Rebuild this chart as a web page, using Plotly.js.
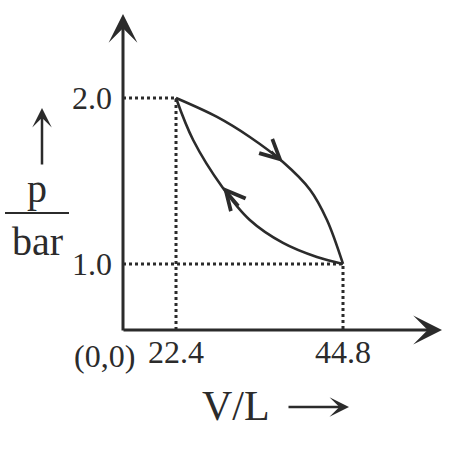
<!DOCTYPE html>
<html><head><meta charset="utf-8">
<script src="https://cdn.plot.ly/plotly-3.0.1.min.js"></script>
<style>html,body{margin:0;padding:0;background:#fff}#plot{width:465px;height:462px}</style>
</head><body><div id="plot"></div>
<script>
// Data
const expansionV = [22.4, 27.9, 32.3, 36.75, 40.4, 42.65, 44.8];
const expansionP = [2.0, 1.886, 1.765, 1.614, 1.446, 1.265, 1.0];
const compressionV = [44.8, 41.3, 36.75, 32.3, 28.6, 24.7, 22.4];
const compressionP = [1.0, 1.042, 1.127, 1.265, 1.464, 1.747, 2.0];
const xTickVals = [22.4, 44.8];
const xTickText = ['22.4', '44.8'];
const yTickVals = [1.0, 2.0];
const yTickText = ['1.0', '2.0'];
// direction markers on the curves: [tailV, tailP, tipV, tipP]
const arrowUpper = [35.0, 1.687, 36.75, 1.614];
const arrowLower = [31.0, 1.343, 28.7, 1.464];

const xRange = [15.29, 58.08];
const yRange = [0.602, 2.506];
const ink = '#2b2b2b';
const serif = 'Liberation Serif, DejaVu Serif, serif';

const traces = [];
// dotted guide lines
[[xTickVals[0], yTickVals[1]], [xTickVals[1], yTickVals[0]]].forEach(([v, p]) => {
  traces.push({x: [xRange[0], v, v], y: [p, p, yRange[0]], mode: 'lines',
    line: {color: ink, width: 3, dash: 'dot'}, hoverinfo: 'skip'});
});
traces.push({x: expansionV, y: expansionP, mode: 'lines', line: {color: ink, width: 2.6, shape: 'spline'}});
traces.push({x: compressionV, y: compressionP, mode: 'lines', line: {color: ink, width: 2.6, shape: 'spline'}});

function px2paperX(px) { return (px - 123) / 319; }
function px2paperY(py) { return (330 - py) / 316; }

const annotations = [];
// axes as arrows
annotations.push({xref: 'paper', yref: 'paper', x: 0, y: 1, axref: 'pixel', ayref: 'pixel', ax: 0, ay: 318,
  showarrow: true, arrowhead: 3, arrowsize: 1.6, arrowwidth: 3, arrowcolor: ink, text: ''});
annotations.push({xref: 'paper', yref: 'paper', x: 1, y: 0, axref: 'pixel', ayref: 'pixel', ax: -320, ay: 0,
  showarrow: true, arrowhead: 3, arrowsize: 1.6, arrowwidth: 3, arrowcolor: ink, text: ''});
// curve direction chevrons
[arrowUpper, arrowLower].forEach(a => {
  annotations.push({xref: 'x', yref: 'y', axref: 'x', ayref: 'y', ax: a[0], ay: a[1], x: a[2], y: a[3],
    showarrow: true, arrowhead: 5, arrowsize: 1.9, arrowwidth: 2, arrowcolor: ink, text: ''});
});
// origin label
annotations.push({xref: 'paper', yref: 'paper', x: px2paperX(104), y: px2paperY(356), text: '(0,0)',
  showarrow: false, font: {family: serif, size: 32, color: ink}, xanchor: 'center', yanchor: 'middle'});
// y title: p / bar
annotations.push({xref: 'paper', yref: 'paper', x: px2paperX(37), y: px2paperY(188), text: 'p',
  showarrow: false, font: {family: serif, size: 40, color: ink}, xanchor: 'center', yanchor: 'middle'});
annotations.push({xref: 'paper', yref: 'paper', x: px2paperX(37), y: px2paperY(241), text: 'bar',
  showarrow: false, font: {family: serif, size: 40, color: ink}, xanchor: 'center', yanchor: 'middle'});
annotations.push({xref: 'paper', yref: 'paper', x: px2paperX(42), y: px2paperY(108), axref: 'pixel', ayref: 'pixel', ax: 0, ay: 58,
  showarrow: true, arrowhead: 3, arrowsize: 1.3, arrowwidth: 2.5, arrowcolor: ink, text: ''});
// x title: V/L ->
annotations.push({xref: 'paper', yref: 'paper', x: px2paperX(236), y: px2paperY(406), text: 'V/L',
  showarrow: false, font: {family: serif, size: 42, color: ink}, xanchor: 'center', yanchor: 'middle'});
annotations.push({xref: 'paper', yref: 'paper', x: px2paperX(349), y: px2paperY(407), axref: 'pixel', ayref: 'pixel', ax: -62, ay: 0,
  showarrow: true, arrowhead: 3, arrowsize: 1.3, arrowwidth: 2.5, arrowcolor: ink, text: ''});

const layout = {
  width: 465, height: 462,
  margin: {l: 123, r: 23, t: 14, b: 132},
  paper_bgcolor: '#fff', plot_bgcolor: '#fff',
  showlegend: false,
  xaxis: {range: xRange, showgrid: false, zeroline: false, showline: false, ticks: '',
    tickvals: xTickVals, ticktext: xTickText, tickfont: {family: serif, size: 32, color: ink}},
  yaxis: {range: yRange, showgrid: false, zeroline: false, showline: false, ticks: '',
    ticklabelstandoff: 10,
    tickvals: yTickVals, ticktext: yTickText, tickfont: {family: serif, size: 32, color: ink}},
  shapes: [{type: 'line', xref: 'paper', yref: 'paper', x0: px2paperX(5), x1: px2paperX(69),
    y0: px2paperY(213), y1: px2paperY(213), line: {color: ink, width: 2}}],
  annotations: annotations
};
Plotly.newPlot('plot', traces, layout, {staticPlot: true, displayModeBar: false});
</script></body></html>
